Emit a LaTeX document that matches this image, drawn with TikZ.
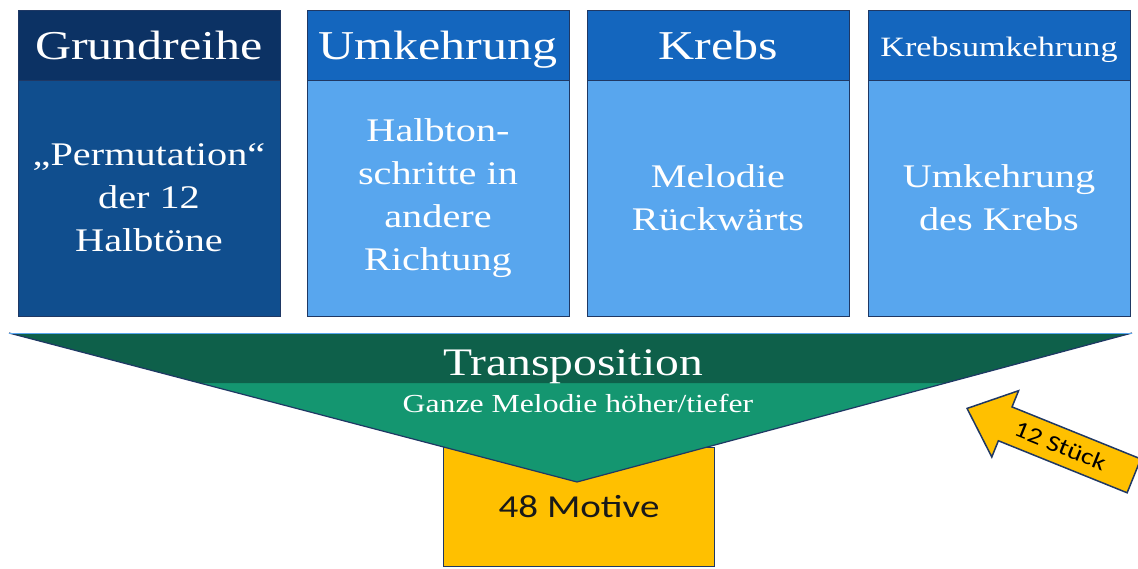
\documentclass[tikz,border=0pt]{standalone}
\usepackage{fontspec}
\setmainfont{Liberation Serif}[FakeStretch=1.22]
\setsansfont{Carlito}[FakeStretch=1.22]
\usetikzlibrary{shapes.arrows,calc}

\definecolor{grHead}{RGB}{12,50,100}
\definecolor{grBody}{RGB}{16,78,142}
\definecolor{ukHead}{RGB}{20,102,190}
\definecolor{ukBody}{RGB}{88,166,238}
\definecolor{tpDark}{RGB}{14,96,74}
\definecolor{tpLight}{RGB}{20,150,112}
\definecolor{gold}{RGB}{255,192,0}
\definecolor{frame}{RGB}{31,56,100}

\newcommand{\BoxWidth}{262}
\newcommand{\HeadHeight}{70}
\newcommand{\BodyHeight}{236}
\newcommand{\HeadY}{45}
\newcommand{\BodyY}{198}
\newcommand{\BandCut}{0.336}

\begin{document}
\begin{tikzpicture}[
  x = 1pt, y = -1pt,
  head/.style={draw=frame,line width=1pt,fill=ukHead,text=white,inner sep=0pt,
    minimum width=\BoxWidth,minimum height=\HeadHeight,text height=29pt,text depth=0pt,
    font=\fontsize{41}{49}\selectfont},
  body/.style={draw=frame,line width=1pt,fill=ukBody,text=white,inner sep=0pt,
    minimum width=\BoxWidth,minimum height=\BodyHeight,align=center,
    font=\fontsize{33}{43}\selectfont},
  funnel/.style={draw=frame,line width=1.2pt},
  motive/.style={draw=frame,line width=1.5pt,fill=gold,text=black!90,
    minimum width=271,minimum height=119,font=\sffamily\fontsize{32}{32}\selectfont},
  piece arrow/.style={single arrow,shape border rotate=180,draw=frame,line width=1.5pt,
    fill=gold,text=black,minimum height=180,single arrow head extend=17.5pt,
    single arrow tip angle=82,inner xsep=4pt,inner ysep=9pt,text height=16pt,text depth=1pt,
    font=\sffamily\fontsize{23}{23}\selectfont}
  ]

	\useasboundingbox[fill=white] (0,0) rectangle (1138,568);

	%draw the four boxes
	\node[head,fill=grHead] (gr head) at (149,\HeadY) {Grundreihe};
	\node[body,fill=grBody] (gr body) at (149,\BodyY) {„Permutation“\\der 12\\Halbtöne};

	\node[head] (uk head) at (438,\HeadY) {Umkehrung};
	\node[body] (uk body) at (438,\BodyY) {Halbton-\\schritte in\\andere\\Richtung};

	\node[head] (kr head) at (718,\HeadY) {Krebs};
	\node[body] (kr body) at (718,\BodyY) {Melodie\\Rückwärts};

	\node[head,font=\fontsize{28}{34}\selectfont,text height=22pt] (ku head) at (999,\HeadY) {Krebsumkehrung};
	\node[body] (ku body) at (999,\BodyY) {Umkehrung\\des Krebs};

	%the result below the funnel
	\node[motive] (motive) at (579,507) {48 Motive};

	%draw the funnel
	\coordinate (fun nw) at (9,333);
	\coordinate (fun ne) at (1132,333);
	\coordinate (fun tip) at (577,482);
	\fill[tpLight] (fun nw) -- (fun ne) -- (fun tip) -- cycle;
	\fill[tpDark] (fun nw) -- (fun ne) -- ($(fun ne)!\BandCut!(fun tip)$) -- ($(fun nw)!\BandCut!(fun tip)$) -- cycle;
	\draw[funnel] (fun nw) -- (fun tip) -- (fun ne);
	\draw[ukBody,thin] (fun nw) -- (fun ne);

	\node[anchor=base,text=white,font=\fontsize{39}{39}\selectfont] (transpo) at (573,375) {Transposition};
	\node[anchor=base,text=white,font=\fontsize{26}{26}\selectfont] (ganze) at (578,412) {Ganze Melodie höher/tiefer};

	%the arrow on the right
	\node[piece arrow,rotate=-22,anchor=tip] (stueck) at (966,408) {12 Stück};

\end{tikzpicture}
\end{document}
